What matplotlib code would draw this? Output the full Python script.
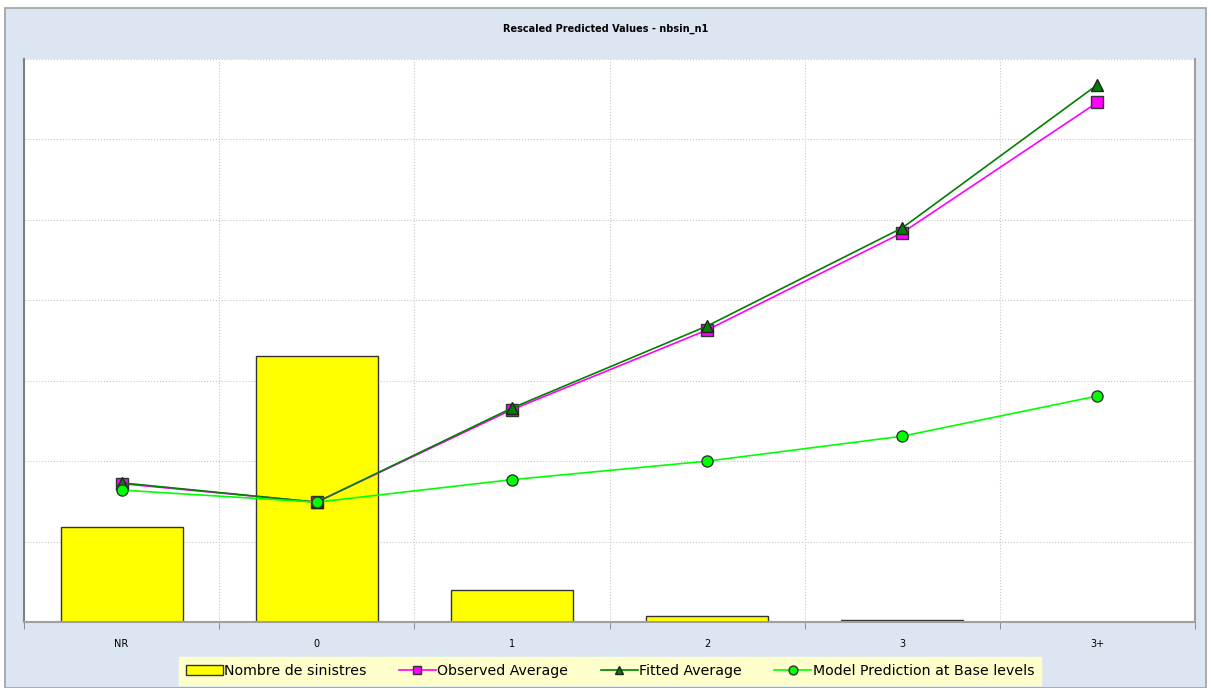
import matplotlib.pyplot as plt
from matplotlib.patches import Rectangle
import numpy as np

# chart values (arbitrary units)
categories = ['NR', '0', '1', '2', '3', '3+']
claims_count = [1.18, 3.31, 0.40, 0.075, 0.02, 0.006]
observed_avg = [1.72, 1.49, 2.64, 3.63, 4.84, 6.46]
fitted_avg = [1.73, 1.49, 2.66, 3.68, 4.90, 6.68]
model_base = [1.64, 1.49, 1.77, 2.00, 2.31, 2.81]

BG = '#dce6f2'

fig = plt.figure(figsize=(12.11, 6.88), dpi=100)
fig.patch.set_facecolor('white')
# outer chart frame
fig.patches.append(Rectangle((5/1211, 0), 1 - 10/1211, 1 - 8/688,
                             transform=fig.transFigure, facecolor=BG,
                             edgecolor='#a0a0a0', linewidth=1.2, zorder=-5))

ax = fig.add_axes([24/1211, 1 - 622/688, (1195-24)/1211, (622-59)/688])
ax.set_facecolor('white')
x = np.arange(len(categories))

ax.bar(x, claims_count, width=0.625, color='#ffff00', edgecolor='#333333',
       linewidth=1.0, zorder=2)
ax.set_xlim(-0.5, len(categories) - 0.5)
ax.set_ylim(0, 7)
ax.set_yticks(np.arange(0, 8))
ax.set_yticklabels([])
ax.tick_params(axis='y', length=0)
ax.grid(axis='y', color='#c8c8c8', linestyle=':', linewidth=0.8)
ax.set_xticks(x)
ax.set_xticklabels(categories, fontsize=7)
ax.tick_params(axis='x', which='major', length=0, pad=12)
ax.set_xticks(np.arange(-0.5, len(categories)), minor=True)
ax.tick_params(axis='x', which='minor', length=5, color='#808080')
ax.grid(axis='x', which='minor', color='#c8c8c8', linestyle=':', linewidth=0.8)
ax.set_axisbelow(True)
ax.spines['top'].set_visible(False)
ax.spines['left'].set_color('#808080')
ax.spines['left'].set_linewidth(1.5)
ax.spines['bottom'].set_color('#a0a0a0')
ax.spines['bottom'].set_linewidth(1.5)
ax.spines['right'].set_color('#a0a0a0')
ax.spines['right'].set_linewidth(1.5)

ax2 = ax.twinx()
ax2.set_ylim(0, 7)
ax2.set_yticks([])
for s in ax2.spines.values():
    s.set_visible(False)

l1, = ax2.plot(x, observed_avg, color='#ff00ff', linewidth=1.2, marker='s',
               markersize=8, markerfacecolor='#ff00ff', markeredgecolor='#333333',
               zorder=3, label='Observed Average')
l2, = ax2.plot(x, fitted_avg, color='#008000', linewidth=1.2, marker='^',
               markersize=8, markerfacecolor='#008000', markeredgecolor='#222222',
               zorder=4, label='Fitted Average')
l3, = ax2.plot(x, model_base, color='#00ff00', linewidth=1.2, marker='o',
               markersize=8, markerfacecolor='#00ff00', markeredgecolor='#333333',
               zorder=5, label='Model Prediction at Base levels')

bar_handle = Rectangle((0, 0), 1, 1, facecolor='#ffff00', edgecolor='#333333')

fig.text(0.5, 1 - 29/688, 'Rescaled Predicted Values - nbsin_n1',
         ha='center', va='center', fontsize=7, fontweight='bold')

leg = fig.legend([bar_handle, l1, l2, l3],
                 ['Nombre de sinistres', 'Observed Average', 'Fitted Average',
                  'Model Prediction at Base levels'],
                 loc='center', bbox_to_anchor=(610/1211, 1 - 671/688),
                 ncol=4, fontsize=10.2, frameon=True, fancybox=False,
                 framealpha=1.0, handlelength=2.6, handletextpad=0.1,
                 columnspacing=2.3, markerscale=0.8, borderpad=0.5)
leg.get_frame().set_facecolor('#ffffcc')
leg.get_frame().set_edgecolor('#ffffcc')

fig.savefig('out.png', dpi=100, facecolor=fig.get_facecolor())
